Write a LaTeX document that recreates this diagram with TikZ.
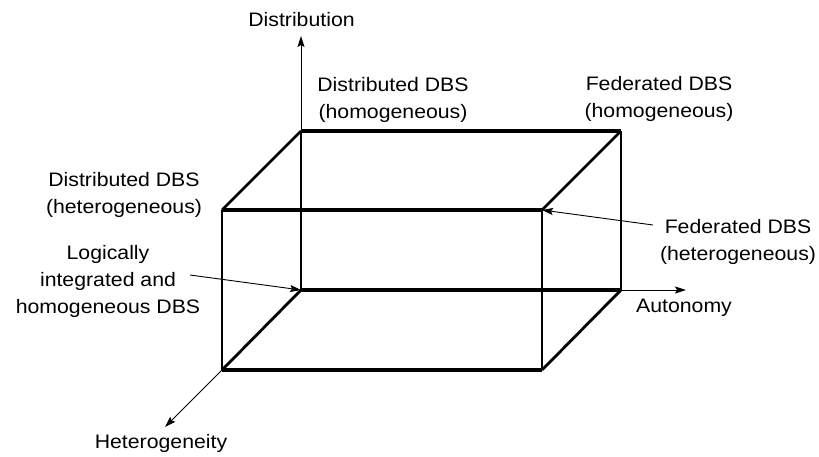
\documentclass[tikz,border=0pt]{standalone}
\usepackage{fontspec}
\setmainfont[FakeStretch=1.09]{Liberation Sans}
\usetikzlibrary{arrows.meta}
\begin{document}
\begin{tikzpicture}[x=1pt,y=-1pt,
  hedge/.style={line width=3.2pt},
  vedge/.style={line width=2.8pt},
  axis/.style={line width=1pt,-{Stealth[length=11pt,width=7pt,inset=2pt]}},
  pointer/.style={line width=0.9pt,-{Stealth[length=11pt,width=7pt,inset=2pt]}},
  lbl/.style={font=\fontsize{19.5}{27}\selectfont,align=center,inner sep=0pt}]
\useasboundingbox (0,0) rectangle (819,457);
% back face
\coordinate (bbl) at (301,290);
\coordinate (btl) at (301,131);
\coordinate (btr) at (621,131);
\coordinate (bbr) at (621,290);
% front face
\coordinate (fbl) at (222,370);
\coordinate (ftl) at (222,210);
\coordinate (ftr) at (542,210);
\coordinate (fbr) at (542,370);
% axis ends
\coordinate (distTip) at (301,36);
\coordinate (autTip) at (686,290);
\coordinate (hetTip) at (165,427);
% box edges
\draw[vedge] (btl) -- (bbl);
\draw[vedge] (btr) -- (bbr);
\draw[vedge] (ftl) -- (fbl);
\draw[vedge] (ftr) -- (fbr);
\draw[hedge] (btl) -- (btr);
\draw[hedge] (bbl) -- (bbr);
\draw[hedge] (ftl) -- (ftr);
\draw[hedge] (fbl) -- (fbr);
\draw[vedge] (ftl) -- (btl);
\draw[vedge] (ftr) -- (btr);
\draw[vedge] (fbl) -- (bbl);
\draw[vedge] (fbr) -- (bbr);
% axes
\draw[axis] (btl) -- (distTip);
\draw[axis] (bbr) -- (autTip);
\draw[axis] (fbl) -- (hetTip);
% labels
\node[lbl,anchor=base] (dist) at (301.5,27) {Distribution};
\node[lbl,anchor=base] (aut) at (684,312) {Autonomy};
\node[lbl,anchor=base] (het) at (161,448) {Heterogeneity};
\node[lbl] (ddhom) at (393,100) {Distributed DBS\\(homogeneous)};
\node[lbl] (fdhom) at (659,99) {Federated DBS\\(homogeneous)};
\node[lbl] (ddhet) at (124,195) {Distributed DBS\\(heterogeneous)};
\node[lbl] (lidb) at (108,281) {Logically\\integrated and\\homogeneous DBS};
\node[lbl] (fdhet) at (738,242) {Federated DBS\\(heterogeneous)};
% pointers
\coordinate (lidbFrom) at (190,275);
\coordinate (fdhetFrom) at (653,225);
\draw[pointer] (lidbFrom) -- (bbl);
\draw[pointer] (fdhetFrom) -- (ftr);
\end{tikzpicture}
\end{document}
